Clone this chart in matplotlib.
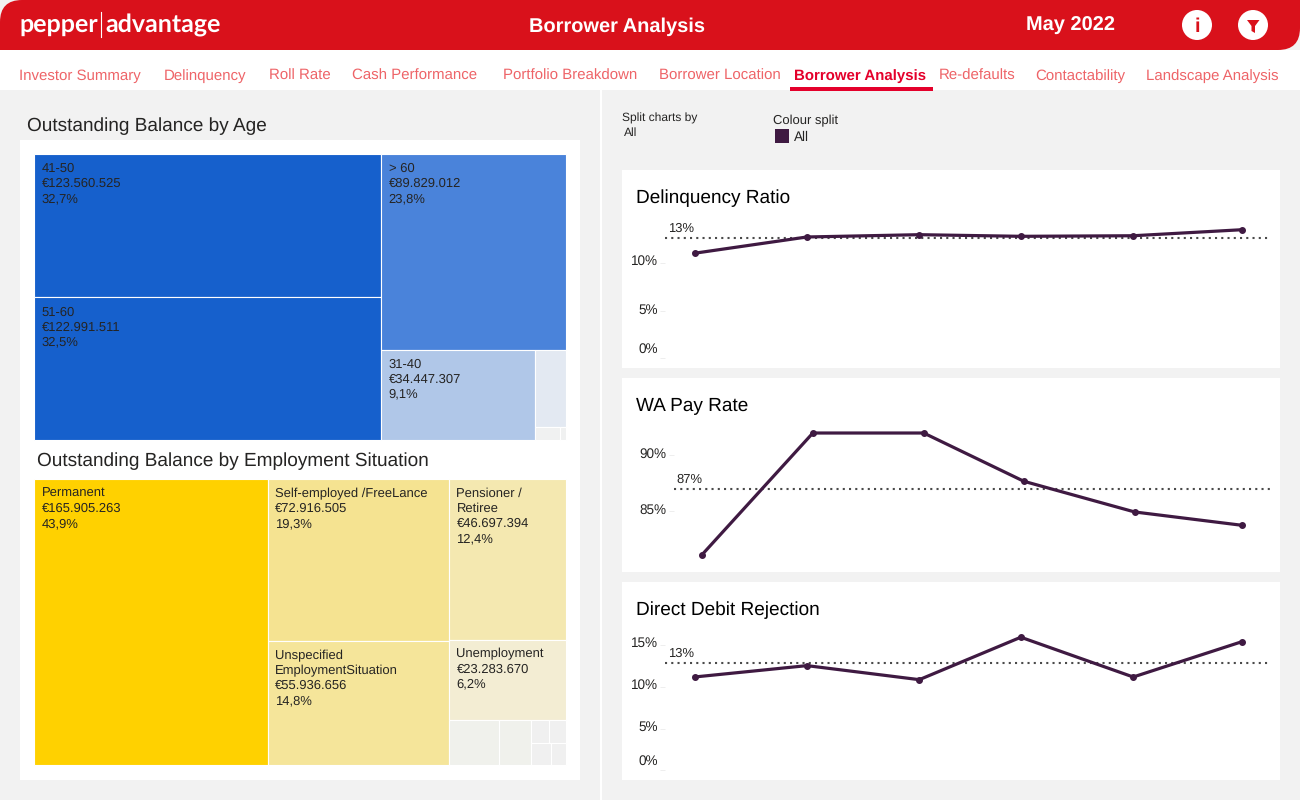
import matplotlib
matplotlib.use("Agg")
import matplotlib.pyplot as plt
import pandas as pd
from matplotlib.patches import Rectangle, Circle, PathPatch, Polygon
from matplotlib.path import Path
from matplotlib.transforms import ScaledTranslation, blended_transform_factory

plt.rcParams['font.family'] = ['Liberation Sans', 'DejaVu Sans']
plt.rcParams['text.hinting'] = 'no_hinting'

W, H = 1300, 800
RED = '#D9111B'
PLUM = '#3F1A42'
TEXT = '#252423'

# Navigation
nav_labels = ['Investor Summary', 'Delinquency', 'Roll Rate', 'Cash Performance', 'Portfolio Breakdown',
              'Borrower Location', 'Borrower Analysis', 'Re-defaults', 'Contactability', 'Landscape Analysis']
nav_x = [19, 164, 269, 352, 503, 659, 794, 939, 1035, 1146]

# Treemap: Outstanding Balance by Age (values in EUR)
age_labels = ['41-50', '51-60', '> 60', '31-40', '', '', '']
age_values = [123560525, 122991511, 89829012, 34447307, 6000000, 800000, 200000]
age_amounts = ['€123.560.525', '€122.991.511', '€89.829.012', '€34.447.307', '', '', '']
age_shares = ['32,7%', '32,5%', '23,8%', '9,1%', '', '', '']
age_colors = ['#1660CC', '#1660CC', '#4A83DA', '#B0C7E8', '#E3E9F2', '#F0F1F1', '#F0F1F1']
age_tree = ('h', [('v', [0, 1]), ('v', [2, ('h', [3, ('v', [4, ('h', [5, 6])])])])])

# Treemap: Outstanding Balance by Employment Situation (values in EUR)
job_labels = ['Permanent', 'Self-employed /FreeLance', 'Unspecified\nEmploymentSituation', 'Pensioner /\nRetiree',
              'Unemployment', '', '', '', '', '', '']
job_values = [165905263, 72916505, 55936656, 46697394, 23283670, 5600000, 3700000, 1050000, 1000000, 1050000, 800000]
job_amounts = ['€165.905.263', '€72.916.505', '€55.936.656', '€46.697.394', '€23.283.670', '', '', '', '', '', '']
job_shares = ['43,9%', '19,3%', '14,8%', '12,4%', '6,2%', '', '', '', '', '', '']
job_colors = ['#FFD100', '#F5E391', '#F5E59A', '#F4E8B0', '#F3EDD3', '#F0F1EC', '#F0F1EC',
              '#F0F0F0', '#F0F0F0', '#F0F0F0', '#F0F0F0']
job_tree = ('h', [0, ('v', [1, 2]), ('v', [3, 4, ('h', [5, 6, ('v', [('h', [7, 8]), ('h', [9, 10])])])])])

# Line charts
months = ['2021-12-01', '2022-01-01', '2022-02-01', '2022-03-01', '2022-04-01', '2022-05-01']
delinquency = [10.99, 12.69, 12.93, 12.76, 12.82, 13.45]
delinquency_ref = 12.6
pay_rate = [81.12, 91.99, 91.99, 87.68, 84.94, 83.75]
pay_rate_ref = 87.02
dd_rejection = [11.17, 12.53, 10.85, 15.93, 11.17, 15.4]
dd_rejection_ref = 12.85

fig = plt.figure(figsize=(W / 100, H / 100), dpi=100, facecolor='#F2F2F2')
bg = fig.add_axes([0, 0, 1, 1])
bg.set_xlim(0, W)
bg.set_ylim(H, 0)
bg.axis('off')


def px(size):
    return size * 0.72


def txt(x, y, s, size, color=TEXT, **kw):
    kw.setdefault('va', 'baseline')
    bg.text(x, y, s, fontsize=px(size), color=color, **kw)


def rect(x0, y0, x1, y1, color, **kw):
    bg.add_patch(Rectangle((x0, y0), x1 - x0, y1 - y0, facecolor=color, edgecolor='none', **kw))


# Header band, rounded top left and bottom right
r = 22
verts = [(r, 0), (W, 0), (W, 50 - r), (W, 50), (W - r, 50), (0, 50), (0, r), (0, 0), (r, 0)]
codes = [Path.MOVETO, Path.LINETO, Path.LINETO, Path.CURVE3, Path.CURVE3, Path.LINETO, Path.LINETO, Path.CURVE3, Path.CURVE3]
rect(0, 50, W, 90, 'white')
bg.add_patch(PathPatch(Path(verts, codes), facecolor=RED, edgecolor='none'))

txt(19, 32, 'pepper', 25, 'white', family='Lato', weight='bold')
bg.plot([101, 101], [12, 37], color='white', lw=0.8)
txt(105, 32, 'advantage', 25, 'white', family='Lato', weight='bold')
txt(617, 32, 'Borrower Analysis', 20, 'white', ha='center', weight='bold')
txt(1070, 31, 'May 2022', 20, 'white', ha='center', weight='bold')

bg.add_patch(Circle((1197, 25), 15, facecolor='white', edgecolor='none'))
txt(1197, 32, 'i', 20, RED, ha='center', weight='bold')
bg.add_patch(Circle((1253, 25), 15, facecolor='white', edgecolor='none'))
bg.add_patch(Polygon([(1247, 20), (1259.5, 20), (1255, 26), (1255, 33), (1251.5, 31), (1251.5, 26)],
                     facecolor=RED, edgecolor='none'))

# Nav strip
for label, x in zip(nav_labels, nav_x):
    if label == 'Borrower Analysis':
        txt(x, 80, label, 15, '#E4002B', weight='bold')
    else:
        txt(x, 80, label, 15, '#EE6468')
rect(790, 87, 933, 90.5, '#E4002B')

# Panels and cards
rect(600, 90, 602, H, 'white')
rect(20, 140, 580, 780, 'white')
rect(622, 170, 1280, 368, 'white')
rect(622, 378, 1280, 572, 'white')
rect(622, 582, 1280, 780, 'white')

txt(27, 131, 'Outstanding Balance by Age', 19)
txt(37, 466, 'Outstanding Balance by Employment Situation', 19)

txt(622, 122, 'Split charts by', 12)
txt(624, 136, 'All', 12)
txt(773, 124, 'Colour split', 13)
rect(775, 129, 789, 143, PLUM)
txt(794, 141, 'All', 13.5)


def leaf_sum(node, values):
    if isinstance(node, int):
        return values[node]
    return sum(leaf_sum(n, values) for n in node[1])


def layout(node, values, x0, y0, x1, y1, out):
    # walks the nested split tree, tile size follows the values
    if isinstance(node, int):
        out[node] = (x0, y0, x1, y1)
        return
    direction, kids = node
    total = leaf_sum(node, values)
    pos = x0 if direction == 'h' else y0
    for kid in kids:
        frac = leaf_sum(kid, values) / total
        if direction == 'h':
            step = (x1 - x0) * frac
            layout(kid, values, pos, y0, pos + step, y1, out)
        else:
            step = (y1 - y0) * frac
            layout(kid, values, x0, pos, x1, pos + step, out)
        pos += step


def treemap(tree, labels, values, amounts, shares, colors, box):
    tiles = {}
    layout(tree, values, *box, tiles)
    for i, (x0, y0, x1, y1) in tiles.items():
        bg.add_patch(Rectangle((x0, y0), x1 - x0, y1 - y0, facecolor=colors[i], edgecolor='white', linewidth=0.8))
        if labels[i]:
            lines = labels[i].split('\n') + [amounts[i], shares[i]]
            for n, line in enumerate(lines):
                txt(x0 + 7.5, y0 + 18 + n * 15, line, 13)


treemap(age_tree, age_labels, age_values, age_amounts, age_shares, age_colors, (34.2, 154.2, 566, 440))
treemap(job_tree, job_labels, job_values, job_amounts, job_shares, job_colors, (34.2, 479.2, 566, 765))


def line_chart(title, card, values, ref, ticks, tick_px, label_dy, x_span, first_last, label_x, ref_x):
    # tick_px: pixel rows of two tick values, used to calibrate the y scale
    top, bottom = card
    txt(636, top + 33, title, 19, 'black')
    ax = fig.add_axes([x_span[0] / W, 1 - bottom / H, (x_span[1] - x_span[0]) / W, (bottom - top) / H])
    ax.patch.set_alpha(0)
    for s in ax.spines.values():
        s.set_visible(False)

    dates = pd.to_datetime(months)
    days = [(d - dates[0]).days for d in dates]
    per_day = (first_last[1] - first_last[0]) / days[-1]
    ax.set_xlim((x_span[0] - first_last[0]) / per_day, (x_span[1] - first_last[0]) / per_day)
    (v0, p0), (v1, p1) = tick_px
    per_unit = (p0 - p1) / (v1 - v0)
    ax.set_ylim(v0 - (bottom - p0) / per_unit, v0 + (p0 - top) / per_unit)

    ax.axhline(ref, color='#4A4A4A', lw=1.5, ls=(0, (1, 2)), zorder=1)
    ax.plot(days, values, color=PLUM, lw=2.3, marker='o', ms=4.0, clip_on=False, zorder=3)

    ax.set_xticks([])
    ax.set_yticks(ticks)
    ax.tick_params(axis='y', length=3.5, width=0.7, color='#EEEEEE', labelleft=False)
    trans = blended_transform_factory(bg.transData, ax.transData)
    for t, dy in zip(ticks, label_dy):
        off = ScaledTranslation(0, -dy / 100, fig.dpi_scale_trans)
        ax.text(label_x, t, f'{t}%', transform=trans + off,
                ha='right', va='center', fontsize=px(13.5), color=TEXT)
    off = ScaledTranslation(0, 9 / 100, fig.dpi_scale_trans)
    ax.text(ref_x, ref, f'{ref:.0f}%', transform=trans + off,
            ha='left', va='center', fontsize=px(13), color=TEXT)


line_chart('Delinquency Ratio', (170, 368), delinquency, delinquency_ref, [0, 5, 10],
           ((0, 358.3), (10, 262.7)), [-9.5, 0, -1], (665, 1268), (694.5, 1242), 658, 668.5)
line_chart('WA Pay Rate', (378, 572), pay_rate, pay_rate_ref, [85, 90],
           ((85, 511.3), (90, 455.3)), [-0.6, -0.6], (673.5, 1270), (702, 1242), 666, 676)
line_chart('Direct Debit Rejection', (582, 780), dd_rejection, dd_rejection_ref, [0, 5, 10, 15],
           ((0, 770.3), (15, 645)), [-9.5, -1, -2, -2], (665, 1268), (694.5, 1242), 658, 668.5)

fig.savefig('out.png', dpi=100, facecolor=fig.get_facecolor())
